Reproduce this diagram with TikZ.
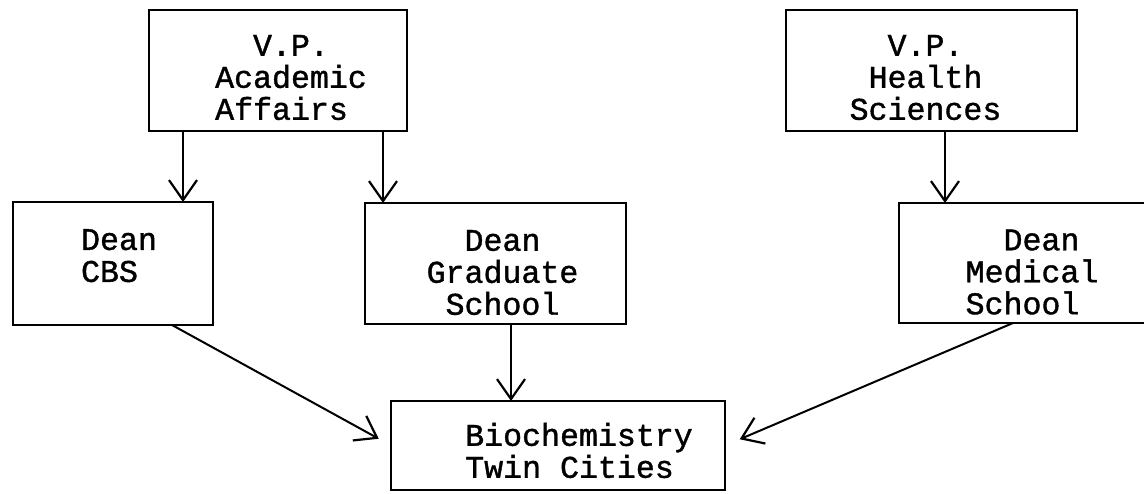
\documentclass[tikz,border=0pt]{standalone}
\usepackage{fontspec}
\setmonofont{Liberation Mono}[FakeBold=1.2]
\usetikzlibrary{arrows.meta}
\begin{document}
\begin{tikzpicture}[x=0.5pt,y=-0.5pt,
    office/.style={draw,line width=1.1pt,inner sep=0pt,outer sep=0pt},
    words/.style={font=\ttfamily\fontsize{15.8}{16}\selectfont,inner sep=0pt},
    report/.style={line width=1pt,-{Straight Barb[length=10pt,width=14pt,line width=1.1pt]}}]
      \useasboundingbox (0,0) rectangle (1144,493);
      \draw
        (278,70.5) node[office,minimum width=129pt,minimum height=60.5pt,
          label={[words,align=left,xshift=6.5pt,yshift=-3.5pt]center:\phantom{xx}V.P.\\Academic\\Affairs}] (vpa) {}
        (931.5,70.5) node[office,minimum width=145.5pt,minimum height=60.5pt,
          label={[words,align=center,xshift=-3pt,yshift=-3.5pt]center:V.P.\\Health\\Sciences}] (vph) {}
        (113,263.5) node[office,minimum width=100pt,minimum height=61.5pt,
          label={[words,align=left,xshift=3pt,yshift=-4pt]center:Dean\\CBS\\\mbox{}}] (cbs) {}
        (495.5,263.5) node[office,minimum width=130.5pt,minimum height=60.5pt,
          label={[words,align=center,xshift=3.5pt,yshift=-4.5pt]center:Dean\\Graduate\\School}] (grad) {}
        (1022,263) node[office,minimum width=123pt,minimum height=60pt,
          label={[words,align=left,xshift=5pt,yshift=-4.5pt]center:\phantom{xx}Dean\\Medical\\School}] (med) {}
        (558,445.5) node[office,minimum width=167pt,minimum height=44.5pt,
          label={[words,align=left,xshift=10.5pt,yshift=-2.5pt]center:Biochemistry\\Twin Cities}] (bio) {};
      \begin{scope}[report]
        \draw ([xshift=-47.5pt]vpa.south) to ([xshift=-47.5pt]vpa.south |- cbs.north);
        \draw ([xshift=52.5pt]vpa.south) to ([xshift=52.5pt]vpa.south |- grad.north);
        \draw ([xshift=6.75pt]vph.south) to ([xshift=6.75pt]vph.south |- med.north);
        \draw ([xshift=7.75pt]grad.south) to ([xshift=7.75pt]grad.south |- bio.north);
        \draw[shorten >=7pt] ([xshift=29.5pt]cbs.south) to (bio.west);
        \draw[shorten >=8pt] ([xshift=-4.5pt]med.south) to (bio.east);
      \end{scope}
    \end{tikzpicture}
\end{document}
